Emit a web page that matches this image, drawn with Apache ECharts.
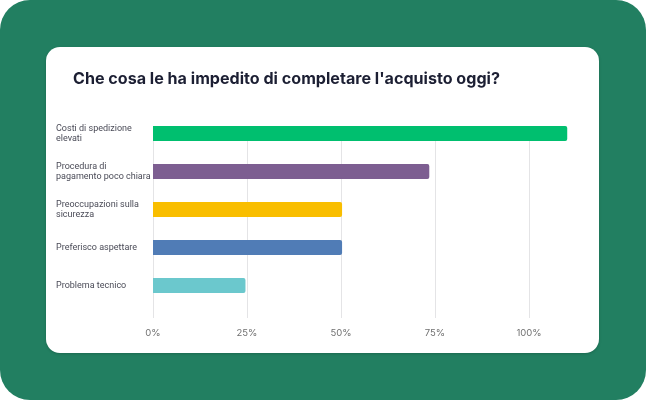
<!DOCTYPE html>
<html>
<head>
<meta charset="utf-8">
<script src="https://cdn.jsdelivr.net/npm/echarts@6/dist/echarts.min.js"></script>
<style>
  html, body { margin: 0; padding: 0; background: #fff; }
  .frame { position: absolute; left: 0; top: 0; width: 646px; height: 400px; background: #227f61; border-radius: 30px; }
  .card { position: absolute; left: 46px; top: 47px; width: 553px; height: 306px; background: #fff; border-radius: 14px; box-shadow: 0 1px 3px rgba(0,0,0,0.18); }
  #chart { position: absolute; left: 0; top: 0; width: 646px; height: 400px; }
</style>
</head>
<body>
<div class="frame"></div>
<div class="card"></div>
<div id="chart"></div>
<script>
// risposte del sondaggio
var categories = [
    'Costi di spedizione\nelevati',
    'Procedura di\npagamento poco chiara',
    'Preoccupazioni sulla\nsicurezza',
    'Preferisco aspettare',
    'Problema tecnico'
];
var values = [110.2, 73.5, 50.3, 50.3, 24.6];
var colors = ['#00bf6f', '#7d5e91', '#f9be00', '#507cb6', '#6bc8cd'];
var ticks = [0, 25, 50, 75, 100];

var font = 'Inter, "Noto Sans", sans-serif';
var labelFont = 'Roboto, sans-serif';

var chart = echarts.init(document.getElementById('chart'), null, {renderer: 'canvas'});

var option = {
    backgroundColor: 'transparent',
    animation: false,
    title: {
        text: "Che cosa le ha impedito di completare l'acquisto oggi?",
        left: 73,
        top: 71,
        padding: 0,
        textStyle: {
            fontFamily: font,
            fontSize: 16.1,
            fontWeight: 'bold',
            color: '#1c1f33'
        }
    },
    grid: [
        // barre
        {left: 153, top: 114.6, width: 421, height: 190},
        // griglia e etichette percentuali
        {left: 153, top: 126, width: 376, height: 192}
    ],
    xAxis: [
        {
            gridIndex: 0, type: 'value', min: 0, max: 112,
            show: false
        },
        {
            gridIndex: 1, type: 'value', min: 0, max: 100, interval: 25,
            axisLine: {show: false},
            axisTick: {show: false},
            splitLine: {show: true, lineStyle: {color: '#e4e4e6', width: 1}},
            axisLabel: {
                margin: 10,
                fontFamily: font,
                fontSize: 9.5,
                color: '#707070',
                formatter: function (v) {
                    return ticks.indexOf(v) > -1 ? v + '%' : '';
                }
            }
        }
    ],
    yAxis: [
        {
            gridIndex: 0, type: 'category', inverse: true,
            data: categories,
            axisLine: {show: false},
            axisTick: {show: false},
            splitLine: {show: false},
            axisLabel: {
                align: 'left',
                margin: 97,
                overflow: 'none',
                fontFamily: labelFont,
                fontSize: 9,
                lineHeight: 9.6,
                color: '#4a4b57'
            }
        },
        {
            gridIndex: 1, type: 'value', show: false
        }
    ],
    series: [
        {
            type: 'bar',
            xAxisIndex: 0,
            yAxisIndex: 0,
            barWidth: 15,
            z: 3,
            data: values.map(function (v, i) {
                return {value: v, itemStyle: {color: colors[i]}};
            }),
            itemStyle: {borderRadius: [0, 2, 2, 0]}
        }
    ]
};

chart.setOption(option);
</script>
</body>
</html>
